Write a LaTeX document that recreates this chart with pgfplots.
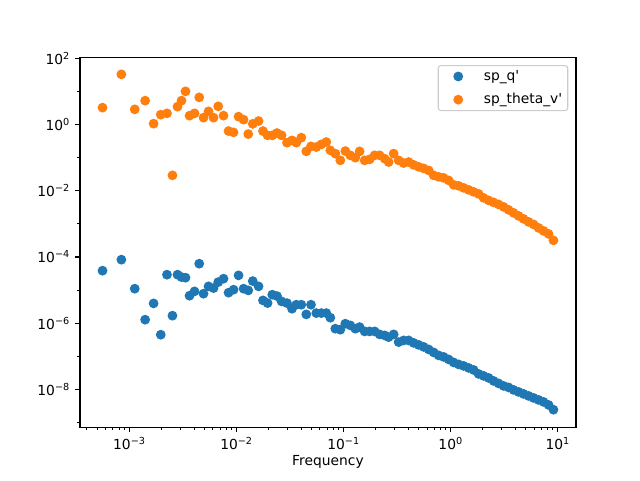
\documentclass[border=0pt]{standalone}
\usepackage{fontspec}
\setmainfont{DejaVu Sans}
\usepackage{pgfplots}
\pgfplotsset{compat=1.18}
\definecolor{mplblue}{HTML}{1F77B4}
\definecolor{mplorange}{HTML}{FF7F0E}

% spectra of q' and theta_v'
\pgfplotstableread{
f        sp
5.6e-4   3.855e-5
8.4e-4   8.29e-5
1.12e-3  1.102e-5
1.4e-3   1.275e-6
1.68e-3  3.96e-6
1.96e-3  4.49e-7
2.24e-3  2.92e-5
2.52e-3  1.685e-6
2.809e-3 2.92e-5
3.062e-3 2.47e-5
3.337e-3 2.37e-5
3.637e-3 6.77e-6
4.05e-3  9.13e-6
4.48e-3  6.27e-5
4.915e-3 7.78e-6
5.473e-3 1.294e-5
6.095e-3 1.149e-5
6.745e-3 1.745e-5
7.558e-3 2.21e-5
8.42e-3  8.35e-6
9.375e-3 1.028e-5
1.044e-2 2.78e-5
1.163e-2 1.102e-5
1.286e-2 9.79e-6
1.417e-2 1.87e-5
1.606e-2 1.294e-5
1.765e-2 4.885e-6
1.949e-2 4.05e-6
2.156e-2 7.26e-6
2.386e-2 6.59e-6
2.634e-2 4.56e-6
2.958e-2 4.05e-6
3.295e-2 2.74e-6
3.614e-2 3.62e-6
4.025e-2 3.62e-6
4.48e-2  1.845e-6
4.958e-2 3.62e-6
5.557e-2 2.02e-6
6.188e-2 2.02e-6
6.89e-2  2.02e-6
7.51e-2  1.466e-6
8.365e-2 6.82e-7
9.316e-2 6.36e-7
0.1037   9.66e-7
0.1155   8.58e-7
0.1286   6.82e-7
0.1411   7.62e-7
0.1572   5.65e-7
0.1750   5.65e-7
0.1949   5.65e-7
0.2170   4.59e-7
0.2417   4.28e-7
0.2634   3.80e-7
0.2934   4.59e-7
0.3266   2.685e-7
0.3637   3.02e-7
0.4050   3.02e-7
0.4510   2.54e-7
0.5022   2.21e-7
0.5591   1.923e-7
0.6225   1.616e-7
0.6931   1.312e-7
0.7717   1.065e-7
0.8592   9.59e-8
0.9567   8.06e-8
1.0652   6.54e-8
1.1860   5.69e-8
1.3205   5.13e-8
1.4702   4.46e-8
1.6369   3.88e-8
1.8226   2.94e-8
2.0293   2.56e-8
2.2594   2.225e-8
2.5156   1.806e-8
2.8009   1.518e-8
3.1185   1.276e-8
3.4722   1.149e-8
3.8660   9.66e-9
4.3044   8.41e-9
4.7925   7.31e-9
5.336    6.36e-9
5.941    5.535e-9
6.615    4.82e-9
7.365    4.19e-9
8.200    3.40e-9
9.117    2.435e-9
}\spq

\pgfplotstableread{
f        sp
5.6e-4   3.24
8.4e-4   32.86
1.12e-3  2.88
1.4e-3   5.27
1.68e-3  1.065
1.96e-3  1.99
2.24e-3  2.18
2.52e-3  0.0292
2.809e-3 3.47
3.062e-3 5.27
3.337e-3 10.07
3.637e-3 1.857
4.05e-3  2.18
4.48e-3  6.63
4.915e-3 1.616
5.473e-3 2.505
6.095e-3 1.616
6.745e-3 3.55
7.558e-3 1.857
8.42e-3  0.636
9.375e-3 0.581
1.044e-2 1.733
1.163e-2 1.406
1.286e-2 0.516
1.417e-2 1.05
1.606e-2 1.276
1.765e-2 0.636
1.949e-2 0.472
2.156e-2 0.472
2.386e-2 0.554
2.634e-2 0.472
2.958e-2 0.284
3.295e-2 0.333
3.614e-2 0.284
4.025e-2 0.402
4.48e-2  0.155
4.958e-2 0.2195
5.557e-2 0.209
6.188e-2 0.2523
6.89e-2  0.296
7.51e-2  0.1662
8.365e-2 0.1321
9.316e-2 0.0829
0.1037   0.1583
0.1155   0.1174
0.1286   0.1
0.1411   0.155
0.1572   0.0829
0.1750   0.0888
0.1949   0.1174
0.2170   0.1174
0.2417   0.0933
0.2634   0.0737
0.2934   0.1321
0.3266   0.0829
0.3637   0.0687
0.4050   0.0737
0.4510   0.0606
0.5022   0.0527
0.5591   0.0475
0.6225   0.0413
0.6931   0.0292
0.7717   0.0263
0.8592   0.0245
0.9567   0.0206
1.0652   0.01508
1.1860   0.01406
1.3205   0.01224
1.4702   0.01064
1.6369   0.00927
1.8226   0.00806
2.0293   0.0061
2.2594   0.00513
2.5156   0.00446
2.8009   0.00388
3.1185   0.00326
3.4722   0.00265
3.8660   0.00215
4.3044   0.001744
4.7925   0.001416
5.336    0.001149
5.941    0.000966
6.615    0.000757
7.365    0.000614
8.200    0.000499
9.117    0.000317
}\spthv

\begin{document}
\begin{tikzpicture}[x=1bp,y=1bp]
\path[use as bounding box] (-57.6,-38.0) rectangle (403.2,307.6);
\begin{axis}[
  at={(0,0)}, anchor=south west,
  scale only axis, width=357.1bp, height=266.1bp,
  xmode=log, ymode=log,
  xmin=3.45e-4, xmax=14.8, ymin=7.2e-10, ymax=105,
  axis line style={line width=0.8bp},
  tick align=outside, xtick pos=bottom, ytick pos=left,
  major tick length=3.5bp, minor tick length=2bp,
  every tick/.style={black, line width=0.8bp},
  every minor tick/.style={black, line width=0.6bp},
  xtick={1e-3,1e-2,1e-1,1,10},
  xticklabels={10\textsuperscript{−3},10\textsuperscript{−2},10\textsuperscript{−1},10\textsuperscript{0},10\textsuperscript{1}},
  minor xtick={4e-4,5e-4,6e-4,7e-4,8e-4,9e-4,
    2e-3,3e-3,4e-3,5e-3,6e-3,7e-3,8e-3,9e-3,
    2e-2,3e-2,4e-2,5e-2,6e-2,7e-2,8e-2,9e-2,
    0.2,0.3,0.4,0.5,0.6,0.7,0.8,0.9,
    2,3,4,5,6,7,8,9},
  ytick={1e-8,1e-6,1e-4,1e-2,1,100},
  yticklabels={10\textsuperscript{−8},10\textsuperscript{−6},10\textsuperscript{−4},10\textsuperscript{−2},10\textsuperscript{0},10\textsuperscript{2}},
  minor ytick={1e-9,1e-7,1e-5,1e-3,1e-1,10},
  tick label style={font=\fontsize{10}{12}\selectfont},
  xticklabel style={inner sep=0pt, yshift=-3.5bp},
  yticklabel style={inner sep=0pt, xshift=-3.5bp},
  xlabel={Frequency},
  xlabel style={font=\fontsize{10}{12}\selectfont, inner sep=0pt, yshift=-4bp},
  legend style={at={(1,1)}, anchor=north east, xshift=-5.5bp, yshift=-5.3bp,
    draw=black!20, rounded corners=2bp, line width=0.8bp,
    font=\fontsize{10}{12}\selectfont, inner xsep=4bp, inner ysep=3bp,
    row sep=7bp,
    nodes={inner sep=0pt, text height=7.5bp, text depth=2.2bp}},
  legend cell align=left,
  % handle 20bp long with the mark in its middle, then 8bp before the text
  legend image code/.code={%
    \path (0bp,0bp) (28bp,0bp);
    \draw[mark repeat=2,mark phase=2]
    plot coordinates {(0bp,0bp) (10bp,0bp) (20bp,0bp)};},
]
\addplot[only marks, mark=*, mark size=3bp, color=mplblue,
  mark options={line width=1bp, draw=mplblue, fill=mplblue}] table[x=f, y=sp] {\spq};
\addlegendentry{sp\_q\textquotesingle}
\addplot[only marks, mark=*, mark size=3bp, color=mplorange,
  mark options={line width=1bp, draw=mplorange, fill=mplorange}] table[x=f, y=sp] {\spthv};
\addlegendentry{sp\_theta\_v\textquotesingle}
\end{axis}
\end{tikzpicture}
\end{document}
